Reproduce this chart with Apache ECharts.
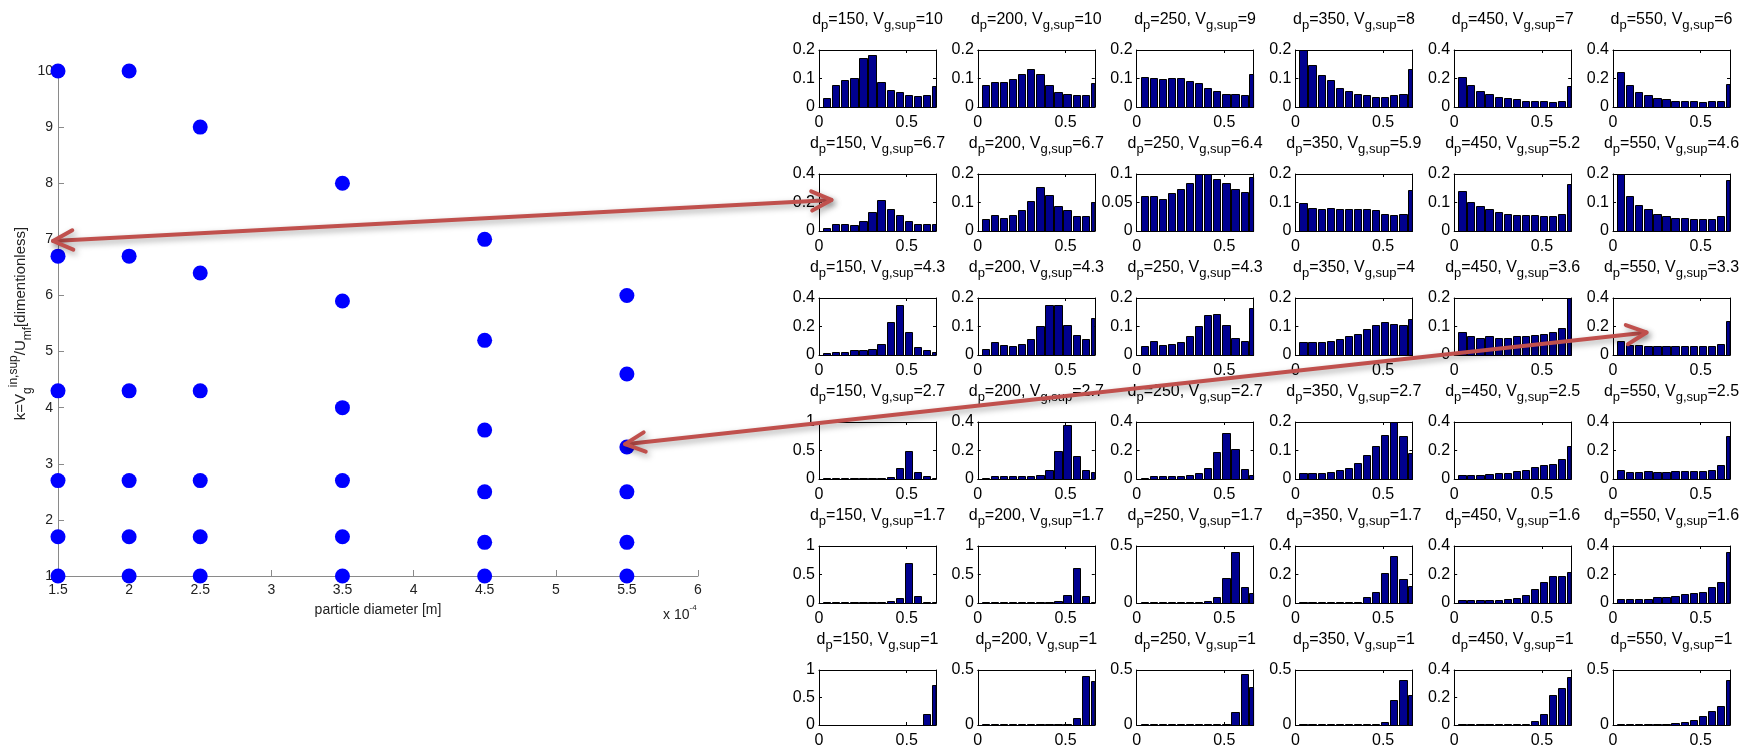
<!DOCTYPE html>
<html><head><meta charset="utf-8">
<script src="https://cdn.jsdelivr.net/npm/echarts@6.0.0/dist/echarts.min.js"></script>
<style>html,body{margin:0;padding:0;background:#fff}#c{width:1744px;height:749px}</style>
</head><body><div id="c"></div>
<script>
// ---------------- DATA ----------------
const diametersUm = [150, 200, 250, 350, 450, 550];           // particle diameter (micrometre)
const kDp150 = [10, 6.7, 4.3, 2.7, 1.7, 1];
const kDp200 = [10, 6.7, 4.3, 2.7, 1.7, 1];
const kDp250 = [9, 6.4, 4.3, 2.7, 1.7, 1];
const kDp350 = [8, 5.9, 4, 2.7, 1.7, 1];
const kDp450 = [7, 5.2, 3.6, 2.5, 1.6, 1];
const kDp550 = [6, 4.6, 3.3, 2.5, 1.6, 1];
const kByDp = [kDp150, kDp200, kDp250, kDp350, kDp450, kDp550];

const binCenters = [0.044, 0.095, 0.147, 0.199, 0.251, 0.302, 0.354, 0.406, 0.457, 0.509, 0.561, 0.613, 0.664];
const histXTicks = [0, 0.5];

const yMaxDp150 = [0.2, 0.4, 0.4, 1, 1, 1];
const yMaxDp200 = [0.2, 0.2, 0.2, 0.4, 1, 0.5];
const yMaxDp250 = [0.2, 0.1, 0.2, 0.4, 0.5, 0.5];
const yMaxDp350 = [0.2, 0.2, 0.2, 0.2, 0.4, 0.5];
const yMaxDp450 = [0.4, 0.2, 0.2, 0.4, 0.4, 0.4];
const yMaxDp550 = [0.4, 0.2, 0.4, 0.4, 0.4, 0.5];
const yMaxByDp = [yMaxDp150, yMaxDp200, yMaxDp250, yMaxDp350, yMaxDp450, yMaxDp550];

const histDp150 = [
  [0.031,0.077,0.094,0.102,0.173,0.183,0.087,0.058,0.051,0.042,0.037,0.042,0.072],
  [0.021,0.052,0.052,0.042,0.071,0.134,0.216,0.155,0.111,0.071,0.052,0.052,0.052],
  [0.011,0.023,0.023,0.032,0.032,0.041,0.080,0.231,0.350,0.162,0.053,0.032,0.023],
  [0.01,0.01,0.01,0.01,0.01,0.01,0.02,0.04,0.2,0.5,0.13,0.05,0.02],
  [0.01,0.01,0.01,0.01,0.01,0.01,0.01,0.04,0.08,0.70,0.12,0.01,0.01],
  [0.005,0.005,0.005,0.005,0.005,0.005,0.005,0.005,0.005,0.005,0.005,0.2,0.72]
];
const histDp200 = [
  [0.077,0.087,0.087,0.097,0.117,0.133,0.117,0.077,0.051,0.047,0.042,0.042,0.083],
  [0.041,0.056,0.046,0.056,0.072,0.107,0.153,0.127,0.087,0.072,0.052,0.052,0.102],
  [0.021,0.046,0.035,0.031,0.040,0.055,0.101,0.175,0.175,0.106,0.071,0.055,0.130],
  [0.01,0.02,0.02,0.02,0.02,0.02,0.03,0.06,0.2,0.38,0.16,0.06,0.05],
  [0.01,0.01,0.01,0.01,0.01,0.01,0.01,0.01,0.03,0.14,0.62,0.12,0.01],
  [0.005,0.005,0.005,0.005,0.005,0.005,0.005,0.005,0.005,0.005,0.06,0.45,0.40]
];
const histDp250 = [
  [0.107,0.102,0.097,0.102,0.102,0.092,0.083,0.067,0.057,0.047,0.047,0.042,0.117],
  [0.061,0.061,0.056,0.066,0.074,0.084,0.100,0.100,0.092,0.084,0.074,0.069,0.095],
  [0.031,0.050,0.035,0.040,0.046,0.065,0.101,0.141,0.145,0.106,0.061,0.050,0.165],
  [0.01,0.02,0.02,0.02,0.02,0.03,0.04,0.08,0.19,0.32,0.21,0.07,0.03],
  [0.005,0.005,0.005,0.005,0.005,0.005,0.005,0.02,0.05,0.22,0.45,0.14,0.09],
  [0.005,0.005,0.005,0.005,0.005,0.005,0.005,0.005,0.005,0.005,0.12,0.46,0.35]
];
const histDp350 = [
  [0.2,0.148,0.113,0.093,0.066,0.057,0.047,0.042,0.036,0.036,0.042,0.047,0.133],
  [0.098,0.082,0.076,0.082,0.076,0.076,0.076,0.076,0.072,0.061,0.056,0.061,0.144],
  [0.046,0.046,0.046,0.050,0.056,0.065,0.075,0.090,0.105,0.115,0.110,0.105,0.125],
  [0.02,0.02,0.02,0.024,0.03,0.04,0.055,0.085,0.115,0.155,0.2,0.15,0.09],
  [0.005,0.005,0.005,0.005,0.01,0.01,0.01,0.04,0.08,0.21,0.33,0.17,0.12],
  [0.005,0.005,0.005,0.005,0.005,0.005,0.005,0.005,0.005,0.03,0.23,0.41,0.27]
];
const histDp450 = [
  [0.214,0.153,0.114,0.093,0.072,0.063,0.053,0.042,0.042,0.042,0.033,0.042,0.144],
  [0.139,0.102,0.087,0.076,0.066,0.061,0.056,0.056,0.056,0.052,0.052,0.061,0.164],
  [0.080,0.065,0.061,0.065,0.061,0.061,0.065,0.065,0.071,0.075,0.080,0.095,0.2],
  [0.025,0.025,0.025,0.035,0.045,0.045,0.055,0.065,0.085,0.095,0.105,0.14,0.23],
  [0.02,0.02,0.02,0.02,0.02,0.03,0.035,0.055,0.1,0.145,0.19,0.19,0.22],
  [0.005,0.005,0.005,0.005,0.005,0.005,0.005,0.005,0.03,0.08,0.22,0.27,0.35]
];
const histDp550 = [
  [0.244,0.153,0.102,0.084,0.063,0.053,0.042,0.042,0.042,0.033,0.042,0.042,0.163],
  [0.2,0.122,0.092,0.076,0.061,0.052,0.046,0.046,0.041,0.041,0.041,0.052,0.179],
  [0.10,0.07,0.07,0.06,0.06,0.06,0.06,0.06,0.06,0.06,0.06,0.08,0.24],
  [0.065,0.05,0.05,0.055,0.05,0.05,0.055,0.055,0.055,0.055,0.06,0.095,0.3],
  [0.03,0.03,0.03,0.03,0.04,0.04,0.05,0.06,0.07,0.08,0.11,0.15,0.36],
  [0.005,0.005,0.005,0.005,0.005,0.005,0.015,0.025,0.045,0.085,0.13,0.17,0.41]
];
const histByDp = [histDp150, histDp200, histDp250, histDp350, histDp450, histDp550];

// ---------------- LAYOUT / STYLE ----------------
const FONT = 'Liberation Sans, Arial, sans-serif';
const MAIN = {left: 58, top: 71, width: 640, height: 505};
const SUB = {left0: 819, top0: 50, dx: 158.8, dy: 124, w: 117, h: 57};
const BIN_W = 0.0517, BAR_W = 0.8 * BIN_W, HIST_XMAX = 0.667;
const BAR_FILL = '#00008F';
const ARROW = '#C0504D';

const chart = echarts.init(document.getElementById('c'), null, {renderer: 'canvas'});

const grids = [{left: MAIN.left, top: MAIN.top, width: MAIN.width, height: MAIN.height}];
const xAxes = [{
  gridIndex: 0, type: 'value', min: 1.5, max: 6, interval: 0.5,
  axisLine: {onZero: false, lineStyle: {color: '#8a8a8a', width: 1}},
  axisTick: {inside: true, length: 6, lineStyle: {color: '#8a8a8a'}},
  axisLabel: {margin: 7, fontFamily: FONT, fontSize: 14, color: '#222'},
  splitLine: {show: false},
  name: 'particle diameter [m]', nameLocation: 'middle', nameGap: 27,
  nameTextStyle: {fontFamily: FONT, fontSize: 14, color: '#222'}
}];
const yAxes = [{
  gridIndex: 0, type: 'value', min: 1, max: 10, interval: 1,
  axisLine: {onZero: false, lineStyle: {color: '#8a8a8a', width: 1}},
  axisTick: {inside: true, length: 6, lineStyle: {color: '#8a8a8a'}},
  axisLabel: {margin: 5, fontFamily: FONT, fontSize: 14, color: '#222'},
  splitLine: {show: false},
  name: '{m|k=V}{b|g}{t|in,sup}{m|/U}{b|mf}{m|[dimentionless]}',
  nameLocation: 'middle', nameGap: 22,
  nameTextStyle: {
    fontFamily: FONT, fontSize: 15, color: '#222',
    rich: {
      m: {fontFamily: FONT, fontSize: 15, color: '#222', lineHeight: 26, verticalAlign: 'middle'},
      b: {fontFamily: FONT, fontSize: 12, color: '#222', lineHeight: 12, verticalAlign: 'bottom'},
      t: {fontFamily: FONT, fontSize: 12, color: '#222', lineHeight: 12, verticalAlign: 'top'}
    }
  }
}];

const series = [{
  type: 'scatter', xAxisIndex: 0, yAxisIndex: 0,
  symbol: 'circle', symbolSize: 15,
  itemStyle: {color: '#0000FF', opacity: 1},
  data: diametersUm.flatMap((dp, c) => kByDp[c].map(k => [dp / 100, k])),
  z: 3
}];

function renderBar(params, api) {
  const x = api.value(0), y = api.value(1);
  const a = api.coord([x - BAR_W / 2, y]);
  const b = api.coord([x + BAR_W / 2, 0]);
  const cs = params.coordSys;
  const x0 = Math.round(a[0]) + 0.5;
  const x1 = Math.min(Math.round(b[0]) + 0.5, cs.x + cs.width);
  const y0 = Math.round(a[1]) + 0.5;
  const y1 = Math.round(b[1]) + 0.5;
  return {type: 'rect', shape: {x: x0, y: y0, width: x1 - x0, height: y1 - y0},
    style: {fill: BAR_FILL, stroke: '#000', lineWidth: 1}};
}

const graphics = [];
const subTitleRich = {
  a: {fontFamily: FONT, fontSize: 16, fill: '#000', lineHeight: 20, verticalAlign: 'top'},
  s: {fontFamily: FONT, fontSize: 13, fill: '#000', lineHeight: 13, verticalAlign: 'bottom'}
};
function fmtNum(v) { return String(v); }

for (let r = 0; r < 6; r++) {
  for (let c = 0; c < 6; c++) {
    const i = r * 6 + c;
    const g = i + 1;
    const left = SUB.left0 + c * SUB.dx, top = SUB.top0 + r * SUB.dy;
    grids.push({left: left, top: top, width: SUB.w, height: SUB.h});
    const ymax = yMaxByDp[c][r];
    const ystep = ymax === 0.5 ? 0.5 : ymax / 2;
    const common = {
      gridIndex: g, type: 'value', splitLine: {show: false},
      axisLine: {onZero: false, lineStyle: {color: '#000', width: 1}},
      axisTick: {inside: true, length: 3, lineStyle: {color: '#000'}}
    };
    xAxes.push(Object.assign({}, common, {
      position: 'bottom', min: 0, max: HIST_XMAX, interval: 0.5,
      axisLabel: {margin: 8, fontFamily: FONT, fontSize: 16, color: '#000',
        formatter: v => histXTicks.some(t => Math.abs(t - v) < 1e-6) ? String(v) : ''}
    }));
    xAxes.push(Object.assign({}, common, {
      position: 'top', min: 0, max: HIST_XMAX, interval: 0.5, axisLabel: {show: false}
    }));
    yAxes.push(Object.assign({}, common, {
      position: 'left', min: 0, max: ymax, interval: ystep,
      axisLabel: {margin: 4, fontFamily: FONT, fontSize: 16, color: '#000'}
    }));
    yAxes.push(Object.assign({}, common, {
      position: 'right', min: 0, max: ymax, interval: ystep, axisLabel: {show: false}
    }));
    series.push({
      type: 'custom', xAxisIndex: 1 + 2 * i, yAxisIndex: 1 + 2 * i,
      renderItem: renderBar, encode: {x: 0, y: 1},
      data: binCenters.map((bc, k) => [bc, histByDp[c][r][k]]),
      z: 2
    });
    graphics.push({
      type: 'text', x: left + SUB.w / 2, y: top - 38, z: 10,
      style: {
        text: `{a|d}{s|p}{a|=${diametersUm[c]}, V}{s|g,sup}{a|=${fmtNum(kByDp[c][r])}}`,
        rich: subTitleRich, align: 'center', verticalAlign: 'top'
      }
    });
  }
}

// exponent label of main x axis
graphics.push({
  type: 'text', x: 663, y: 604, z: 10,
  style: {
    text: '{m|x 10}{p|-4}', align: 'left', verticalAlign: 'top',
    rich: {
      m: {fontFamily: FONT, fontSize: 14, fill: '#222', lineHeight: 18, verticalAlign: 'bottom'},
      p: {fontFamily: FONT, fontSize: 8, fill: '#222', lineHeight: 8, verticalAlign: 'top'}
    }
  }
});

chart.setOption({
  animation: false,
  backgroundColor: '#fff',
  grid: grids, xAxis: xAxes, yAxis: yAxes, series: series, graphic: graphics
});

// ---------------- ANNOTATION ARROWS (anchored in data coordinates) ----------------
const arrowDefs = [
  {from: {grid: 0, pt: [1.465, 6.97]}, to: {grid: 1 + 6, pt: [0.071, 0.218]}},
  {from: {grid: 0, pt: [5.487, 3.35]}, to: {grid: 1 + 17, pt: [0.191, 0.158]}}
];
const arrowGraphics = [];
arrowDefs.forEach(d => {
  const p = chart.convertToPixel({gridIndex: d.from.grid}, d.from.pt);
  const q = chart.convertToPixel({gridIndex: d.to.grid}, d.to.pt);
  const lineStyle = {stroke: ARROW, lineWidth: 4, lineCap: 'round', lineJoin: 'round', fill: null,
    shadowBlur: 6, shadowColor: 'rgba(0,0,0,0.35)', shadowOffsetX: 2, shadowOffsetY: 3};
  arrowGraphics.push({type: 'line', z: 20, shape: {x1: p[0], y1: p[1], x2: q[0], y2: q[1]}, style: lineStyle});
  const head = (tip, other) => {
    const dx = tip[0] - other[0], dy = tip[1] - other[1];
    const L = Math.hypot(dx, dy), ux = dx / L, uy = dy / L;
    const len = 22, ang = 26 * Math.PI / 180;
    const rot = (a) => [ux * Math.cos(a) - uy * Math.sin(a), ux * Math.sin(a) + uy * Math.cos(a)];
    const r1 = rot(ang), r2 = rot(-ang);
    return [[tip[0] - len * r1[0], tip[1] - len * r1[1]], [tip[0], tip[1]], [tip[0] - len * r2[0], tip[1] - len * r2[1]]];
  };
  arrowGraphics.push({type: 'polyline', z: 20, shape: {points: head(p, q)}, style: lineStyle});
  arrowGraphics.push({type: 'polyline', z: 20, shape: {points: head(q, p)}, style: lineStyle});
});
chart.setOption({graphic: graphics.concat(arrowGraphics)});
</script></body></html>
